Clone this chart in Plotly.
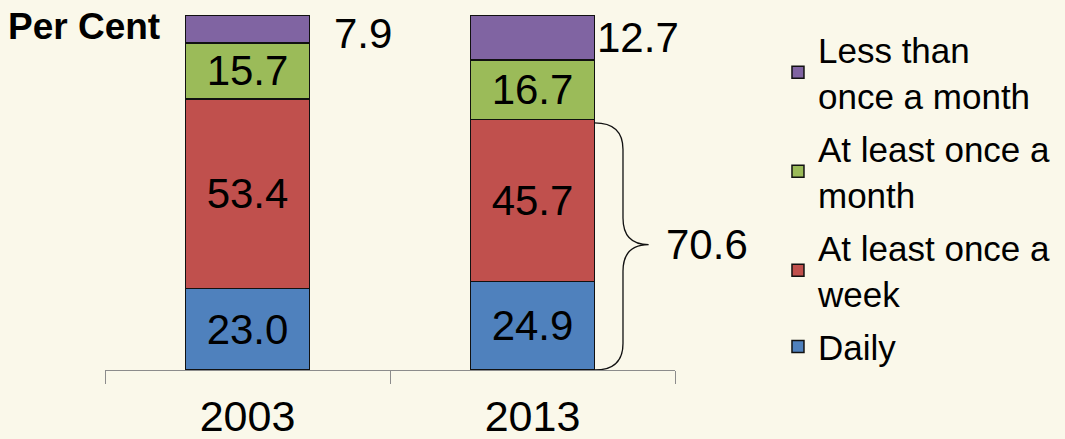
import plotly.graph_objects as go

YEARS = ["2003", "2013"]
DAILY = [23.0, 24.9]
WEEKLY = [53.4, 45.7]
MONTHLY = [15.7, 16.7]
LESS = [7.9, 12.7]

SERIES = [
    ("Daily", DAILY, "#4F81BD"),
    ("At least once a<br>week", WEEKLY, "#C0504D"),
    ("At least once a<br>month", MONTHLY, "#9BBB59"),
    ("Less than<br>once a month", LESS, "#8064A2"),
]

FONT = "Arial, Liberation Sans, sans-serif"
BAR_W = 0.435
NUM_SIZE = 42

fig = go.Figure()
for rank, (name, vals, color) in enumerate(SERIES):
    show_inside = vals is not LESS
    fig.add_trace(go.Bar(
        x=YEARS, y=vals, name=name, width=BAR_W,
        legendgroup=name, legendrank=1000 - rank,
        marker=dict(color=color, line=dict(color="#111111", width=1.5)),
        text=[f"{v:.1f}" for v in vals] if show_inside else None,
        textposition="inside" if show_inside else "none",
        insidetextanchor="middle",
        constraintext="none",
        textfont=dict(size=NUM_SIZE, color="black", family=FONT),
        hoverinfo="skip",
    ))

# outside labels for the top segment
for i, (a, b, c, v) in enumerate(zip(DAILY, WEEKLY, MONTHLY, LESS)):
    fig.add_annotation(
        x=i, y=a + b + c + v / 2, xref="x", yref="y",
        text=f"{v:.1f}", showarrow=False, xanchor="left",
        xshift=[84, 62][i], yshift=[-4, 0][i],
        font=dict(size=NUM_SIZE, color="black", family=FONT),
    )

# brace over daily + weekly for 2013
top = DAILY[1] + WEEKLY[1]
mid = top / 2
x0 = 1 + BAR_W / 2
xm = x0 + 0.1
xt = x0 + 0.19
r = 7.5
path = (
    f"M {x0},{top - 1} Q {xm},{top - 1} {xm},{top - 1 - r} "
    f"L {xm},{mid + r} Q {xm},{mid} {xt},{mid} "
    f"Q {xm},{mid} {xm},{mid - r} "
    f"L {xm},{r} Q {xm},0 {x0},0"
)
fig.add_shape(type="path", path=path, xref="x", yref="y",
              line=dict(color="#111111", width=1.3))
fig.add_annotation(
    x=xt, y=mid, xref="x", yref="y", text=f"{top:.1f}", showarrow=False,
    xanchor="left", xshift=15,
    font=dict(size=NUM_SIZE, color="black", family=FONT),
)

fig.add_annotation(
    x=-0.174, y=0.968, xref="paper", yref="paper", text="<b>Per Cent</b>",
    showarrow=False, xanchor="left", yanchor="middle",
    font=dict(size=37, color="black", family=FONT),
)

fig.update_layout(
    barmode="stack",
    width=1065, height=439,
    margin=dict(l=105, r=390, t=15, b=69, autoexpand=False),
    paper_bgcolor="#FAF8EA",
    plot_bgcolor="#FAF8EA",
    font=dict(family=FONT, color="black"),
    xaxis=dict(
        type="category", range=[-0.5, 1.5], tickson="boundaries",
        ticks="outside", ticklen=13, tickcolor="#8C8C8C", tickwidth=1,
        showline=True, linecolor="#8C8C8C", linewidth=1,
        showgrid=False, tickfont=dict(size=43, color="black"),
        ticklabelstandoff=8, automargin=False,
    ),
    yaxis=dict(range=[0, 100], visible=False, automargin=False),
    legend=dict(
        xref="container", yref="container",
        x=0.7305, y=0.954, xanchor="left", yanchor="top",
        traceorder="grouped", tracegroupgap=5,
        bgcolor="rgba(0,0,0,0)", maxheight=439,
        font=dict(size=35, color="black", family=FONT),
    ),
)

fig.write_html("out.html", config={"displayModeBar": False},
               post_script="document.body.style.margin='0';")
